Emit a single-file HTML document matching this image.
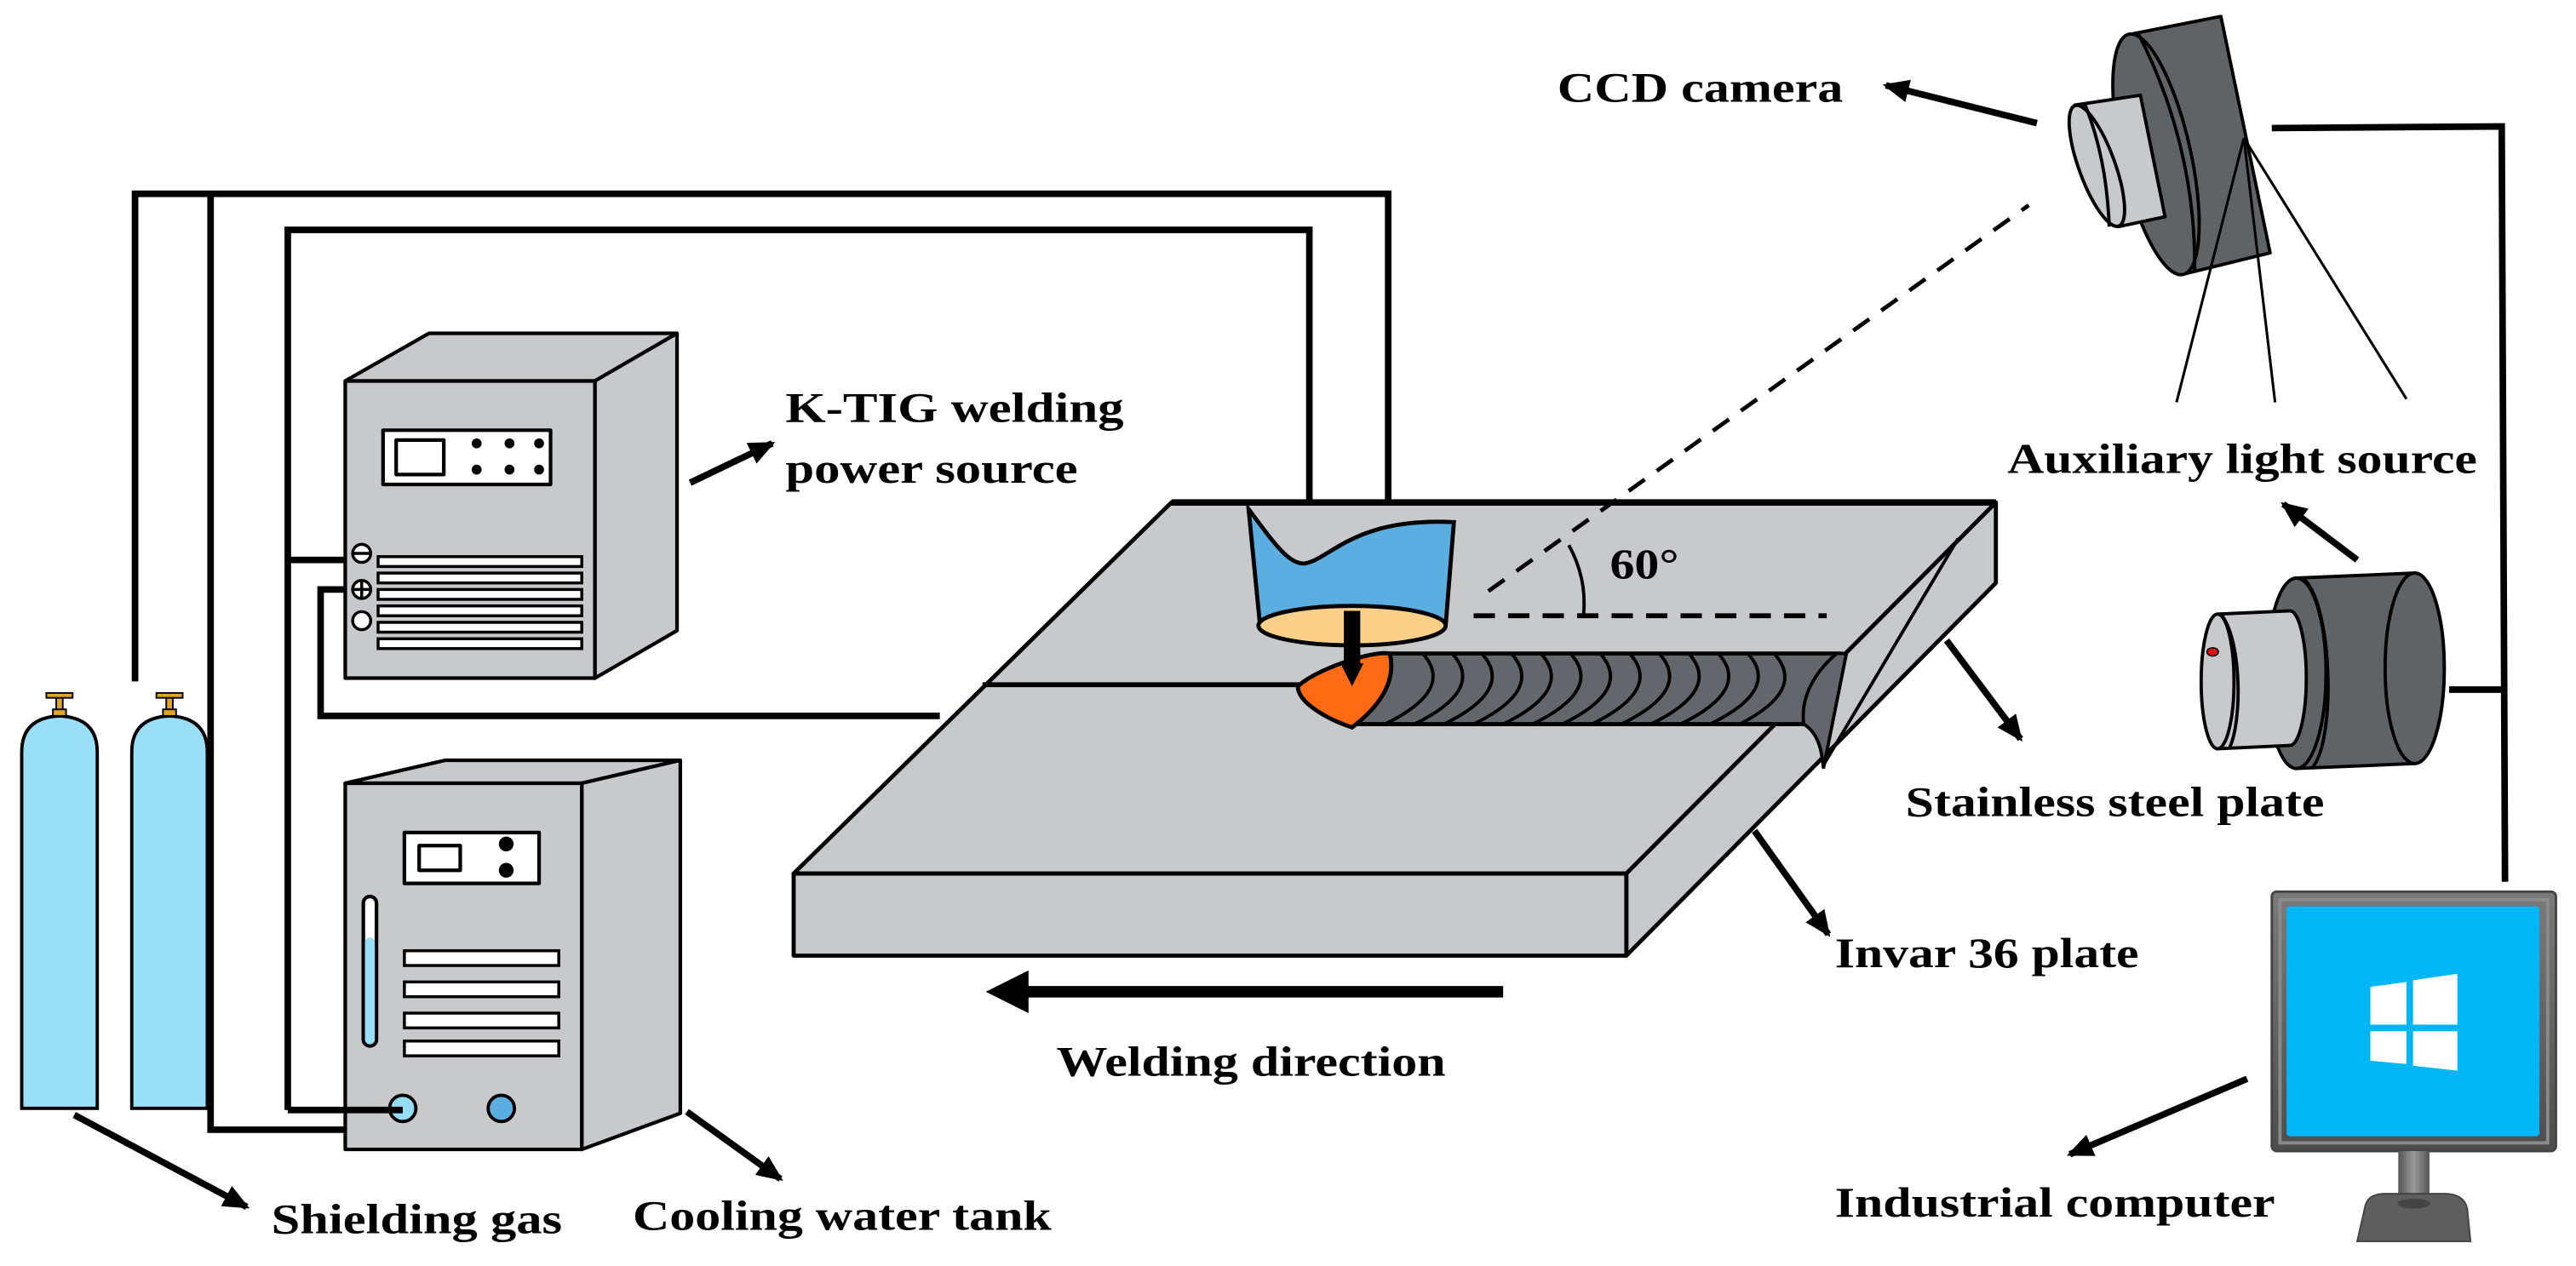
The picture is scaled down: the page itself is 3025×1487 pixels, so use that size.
<!DOCTYPE html>
<html><head><meta charset="utf-8"><style>
html,body{margin:0;padding:0;background:#fff}
svg{display:block}
text{font-family:"Liberation Serif","Times New Roman",serif;font-weight:bold;fill:#000}
</style></head><body>
<svg width="3025" height="1487" viewBox="0 0 1568 771" xmlns="http://www.w3.org/2000/svg">
<defs>
<marker id="ah" markerUnits="userSpaceOnUse" markerWidth="16" markerHeight="14" refX="14" refY="7" orient="auto"><path d="M0,0 L16,7 L0,14 Z" fill="#000"/></marker>
<linearGradient id="bez" x1="0" y1="0" x2="0" y2="1"><stop offset="0" stop-color="#7a7a7a"/><stop offset="1" stop-color="#4d4d4d"/></linearGradient>
<linearGradient id="neck" x1="0" y1="0" x2="1" y2="0"><stop offset="0" stop-color="#555"/><stop offset=".5" stop-color="#9a9a9a"/><stop offset="1" stop-color="#555"/></linearGradient>
</defs>

<!-- wires -->
<g fill="none" stroke="#000" stroke-width="4">
<polyline points="82,415 82,118 845,118 845,308"/>
<polyline points="128,118 128,688 308,688"/>
<polyline points="175,676 175,140 797,140 797,318"/>
<line x1="175" y1="341" x2="210" y2="341"/>
<polyline points="210,359 195,359 195,436 572,436"/>
<polyline points="1383,78 1523,77 1525,537"/>
<line x1="1491" y1="420" x2="1525" y2="420"/>
</g>

<!-- cylinders -->
<g stroke="#000" stroke-width="2" fill="#99dff7">
<path d="M13,675 L13,458 Q13,437 36,436 Q59,437 59,458 L59,675 Z"/>
<path d="M80,675 L80,458 Q80,437 103,436 Q126,437 126,458 L126,675 Z"/>
</g>
<g stroke="#000" stroke-width="1" fill="#e0a526">
<rect x="34" y="424" width="4" height="12"/><rect x="28" y="422" width="16" height="3"/><rect x="32" y="432" width="8" height="4"/>
<rect x="101" y="424" width="4" height="12"/><rect x="95" y="422" width="16" height="3"/><rect x="99" y="432" width="8" height="4"/>
</g>

<!-- power source -->
<g stroke="#000" stroke-width="2.2" stroke-linejoin="round">
<polygon points="210,232 261,203 412,203 362,232" fill="#c8c9cb"/>
<polygon points="362,232 412,203 412,384 362,413" fill="#c8c9cb"/>
<rect x="210" y="232" width="152" height="181" fill="#c8c9cb"/>
<rect x="233" y="262" width="102" height="33" fill="#fff"/>
<rect x="241" y="268" width="29" height="21" fill="#fff"/>
</g>
<g fill="#000"><circle cx="290" cy="270" r="3"/><circle cx="310" cy="270" r="3"/><circle cx="328" cy="270" r="3"/><circle cx="290" cy="286" r="3"/><circle cx="310" cy="286" r="3"/><circle cx="328" cy="286" r="3"/></g>
<g stroke="#000" stroke-width="1.8" fill="#fff">
<rect x="230" y="339" width="124" height="6"/><rect x="230" y="349" width="124" height="6"/><rect x="230" y="359" width="124" height="6"/><rect x="230" y="369" width="124" height="6"/><rect x="230" y="379" width="124" height="6"/><rect x="230" y="389" width="124" height="6"/>
<circle cx="220" cy="337" r="5.5"/><circle cx="220" cy="359" r="5.5"/><circle cx="220" cy="378" r="5.5"/>
<line x1="215" y1="337" x2="225" y2="337"/><line x1="215" y1="359" x2="225" y2="359"/><line x1="220" y1="354" x2="220" y2="364"/>
</g>

<!-- cooling tank -->
<g stroke="#000" stroke-width="2.2" stroke-linejoin="round">
<polygon points="210,477 271,463 414,463 354,477" fill="#c8c9cb"/>
<polygon points="354,477 414,463 414,678 354,700" fill="#c8c9cb"/>
<rect x="210" y="477" width="144" height="223" fill="#c8c9cb"/>
<rect x="246" y="507" width="82" height="31" fill="#fff"/>
<rect x="255" y="515" width="25" height="15" fill="#fff"/>
<rect x="221" y="546" width="8" height="91" rx="4" fill="#fff"/>
</g>
<rect x="222" y="571" width="6" height="65" rx="3" fill="#99dff7"/>
<circle cx="308" cy="514" r="4.5"/><circle cx="308" cy="530" r="4.5"/>
<g stroke="#000" stroke-width="1.8" fill="#fff">
<rect x="246" y="579" width="94" height="9"/><rect x="246" y="598" width="94" height="9"/><rect x="246" y="617" width="94" height="9"/><rect x="246" y="634" width="94" height="9"/>
</g>
<circle cx="245" cy="675" r="8" fill="#95dcf5" stroke="#000" stroke-width="2"/>
<circle cx="305" cy="675" r="8" fill="#5aaee0" stroke="#000" stroke-width="2"/>
<line x1="245" y1="676" x2="175" y2="676" stroke="#000" stroke-width="4"/>

<!-- plate -->
<g stroke="#000" stroke-width="2.5" stroke-linejoin="round" fill="#c8c9cb">
<polygon points="483,532 713,306 1215,306 990,532"/>
<polygon points="990,532 1215,306 1215,355 990,582"/>
<rect x="483" y="532" width="507" height="50"/>
</g>
<line x1="713" y1="306" x2="1215" y2="306" stroke="#000" stroke-width="4"/>
<line x1="598" y1="417" x2="800" y2="417" stroke="#000" stroke-width="3"/>
<line x1="1192" y1="328" x2="1110" y2="466" stroke="#000" stroke-width="2"/>

<!-- weld bead -->
<path d="M846,398 L1120,398 L1115,441 L823,441 C840,430 850,415 846,398 Z" fill="#63666a" stroke="#000" stroke-width="2.5"/>
<g fill="none" stroke="#000" stroke-width="2">
<path d="M866,398 Q886,420 843,441"/><path d="M884,398 Q904,420 861,441"/><path d="M902,398 Q922,420 879,441"/><path d="M920,398 Q940,420 897,441"/><path d="M938,398 Q958,420 915,441"/><path d="M956,398 Q976,420 933,441"/><path d="M974,398 Q994,420 951,441"/><path d="M992,398 Q1012,420 969,441"/><path d="M1010,398 Q1030,420 987,441"/><path d="M1028,398 Q1048,420 1005,441"/><path d="M1046,398 Q1066,420 1023,441"/><path d="M1064,398 Q1084,420 1041,441"/><path d="M1080,398 Q1100,420 1059,441"/>
</g>
<path d="M1098,441 C1106,446 1109,455 1110,468 L1124,398 L1118,398 C1104,410 1096,425 1098,441 Z" fill="#63666a" stroke="#000" stroke-width="2"/>
<path d="M846,398 C835,396 800,408 790,418 C790,428 808,438 823,443 C840,430 850,415 846,398 Z" fill="#ff6a13" stroke="#000" stroke-width="2.5"/>

<!-- torch -->
<path d="M760,310 C775,330 785,345 795,343 C810,340 825,315 885,318 L880,381 L767,381 Z" fill="#5aafe0" stroke="#000" stroke-width="2.5"/>
<ellipse cx="823" cy="381" rx="57" ry="12" fill="#fdd08a" stroke="#000" stroke-width="2.5"/>
<line x1="823" y1="372" x2="823" y2="406" stroke="#000" stroke-width="10"/>
<polygon points="816,404 830,404 823,418" fill="#000"/>

<!-- angle -->
<line x1="906" y1="360" x2="1235" y2="125" stroke="#000" stroke-width="2.5" stroke-dasharray="12,9"/>
<line x1="897" y1="375" x2="1112" y2="375" stroke="#000" stroke-width="3" stroke-dasharray="13,8"/>
<path d="M955,332 Q966,352 964,374" fill="none" stroke="#000" stroke-width="2"/>

<!-- welding direction -->
<line x1="915" y1="604" x2="620" y2="604" stroke="#000" stroke-width="7"/>
<polygon points="600,604 626,591 626,617" fill="#000"/>

<!-- camera -->
<g stroke="#000" stroke-width="2" stroke-linejoin="round">
<path d="M1296,21 L1352,10 L1382,154 L1329,167 Z" fill="#606366"/>
<ellipse cx="1312.5" cy="94" rx="75" ry="21" transform="rotate(77.3 1312.5 94)" fill="#606366"/>
<path d="M1302,21 C1322,60 1337,110 1336,166" fill="none"/>
<path d="M1263,64 L1303,58 L1318,132 L1290,138 Z" fill="#c8c9cb"/>
<ellipse cx="1276.5" cy="101" rx="39" ry="11" transform="rotate(70 1276.5 101)" fill="#c8c9cb"/>
<path d="M1269,63 C1278,85 1283,110 1284,138" fill="none"/>
</g>
<g stroke="#000" stroke-width="1.6">
<line x1="1366" y1="84" x2="1325" y2="245"/><line x1="1366" y1="84" x2="1385" y2="245"/><line x1="1366" y1="84" x2="1465" y2="243"/>
</g>

<!-- light source -->
<g stroke="#000" stroke-width="2">
<path d="M1398,352 L1470,349 A18,58 0 0 1 1470,465 L1398,468 Z" fill="#606366"/>
<ellipse cx="1398" cy="410" rx="18" ry="58" fill="#606366"/>
<path d="M1403,353 C1420,370 1422,450 1408,467" fill="none"/>
<ellipse cx="1470" cy="407" rx="18" ry="58" fill="#606366"/>
<path d="M1350,374 L1394,372 A10,41 0 0 1 1394,454 L1350,456 Z" fill="#c8c9cb"/>
<ellipse cx="1350" cy="415" rx="10" ry="41" fill="#c8c9cb"/>
<path d="M1352,374 C1365,390 1365,440 1357,456" fill="none"/>
</g>
<ellipse cx="1347" cy="397" rx="3.5" ry="2.5" fill="#e01010" stroke="#000" stroke-width="0.8"/>

<!-- monitor -->
<rect x="1383" y="543" width="173" height="158" rx="3" fill="url(#bez)" stroke="#444" stroke-width="1.5"/>
<rect x="1388" y="548" width="163" height="148" fill="none" stroke="#8a8a8a" stroke-width="2"/>
<rect x="1392" y="552" width="154" height="140" rx="2" fill="#00b6f5"/>
<g fill="#fff">
<polygon points="1443,601 1465,598 1465,624 1443,624"/>
<polygon points="1469,597 1496,593 1496,624 1469,624"/>
<polygon points="1443,628 1465,628 1465,648 1443,646"/>
<polygon points="1469,628 1496,628 1496,652 1469,649"/>
</g>
<rect x="1460" y="701" width="19" height="32" fill="url(#neck)"/>
<path d="M1440,734 Q1442,727 1452,727 L1488,727 Q1500,727 1502,736 L1504,756 L1435,756 Z" fill="#5e5e5e" stroke="#444" stroke-width="1"/>
<ellipse cx="1469.5" cy="733" rx="10" ry="3" fill="#444"/>

<!-- arrows -->
<g stroke="#000" stroke-width="4" marker-end="url(#ah)">
<line x1="45" y1="679" x2="150" y2="735"/>
<line x1="418" y1="677" x2="475" y2="718"/>
<line x1="420" y1="294" x2="470" y2="270"/>
<line x1="1240" y1="75" x2="1148" y2="52"/>
<line x1="1435" y1="341" x2="1390" y2="307"/>
<line x1="1185" y1="390" x2="1230" y2="450"/>
<line x1="1068" y1="506" x2="1113" y2="569"/>
<line x1="1368" y1="657" x2="1260" y2="703"/>
</g>

<!-- labels -->
<g font-size="26" font-family="Liberation Serif, serif" font-weight="bold">
<text x="980" y="352" textLength="42" lengthAdjust="spacingAndGlyphs">60°</text>
<text x="948" y="62" textLength="174" lengthAdjust="spacingAndGlyphs">CCD camera</text>
<text x="478" y="257" textLength="206" lengthAdjust="spacingAndGlyphs">K-TIG welding</text>
<text x="478" y="294" textLength="178" lengthAdjust="spacingAndGlyphs">power source</text>
<text x="1222" y="288" textLength="286" lengthAdjust="spacingAndGlyphs">Auxiliary light source</text>
<text x="1160" y="497" textLength="255" lengthAdjust="spacingAndGlyphs">Stainless steel plate</text>
<text x="1117" y="589" textLength="185" lengthAdjust="spacingAndGlyphs">Invar 36 plate</text>
<text x="643" y="655" textLength="237" lengthAdjust="spacingAndGlyphs">Welding direction</text>
<text x="165" y="751" textLength="177" lengthAdjust="spacingAndGlyphs">Shielding gas</text>
<text x="385" y="749" textLength="255" lengthAdjust="spacingAndGlyphs">Cooling water tank</text>
<text x="1117" y="741" textLength="268" lengthAdjust="spacingAndGlyphs">Industrial computer</text>
</g>
</svg>
</body></html>
